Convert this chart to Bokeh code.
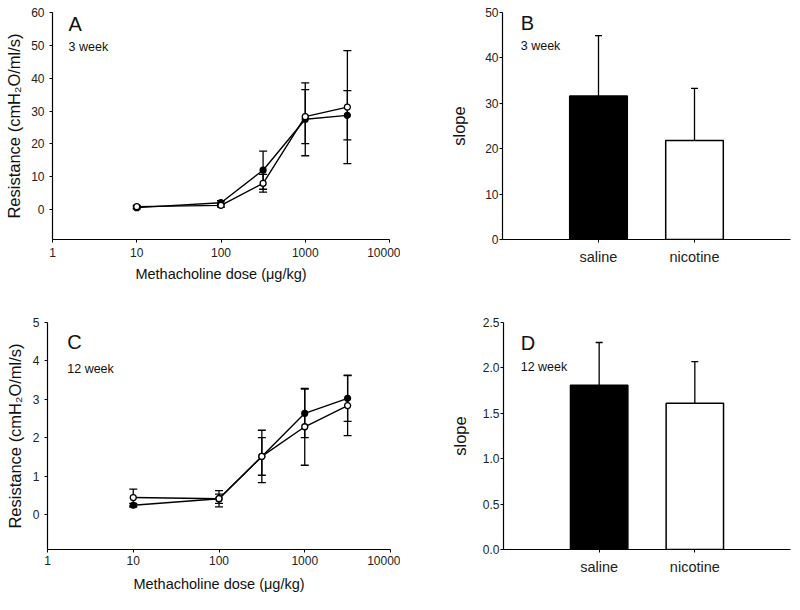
from bokeh.plotting import figure
from bokeh.layouts import column, row
from bokeh.models import Range1d, FixedTicker, Whisker, TeeHead, ColumnDataSource, Label
from bokeh.embed import file_html
from bokeh.resources import INLINE

FONT = "Liberation Sans"

# ---- data ----
doses = [10, 100, 316, 1000, 3162]
dose_tick_values = [1, 10, 100, 1000, 10000]
dose_tick_labels = ["1", "10", "100", "1000", "10000"]

a_saline = [0.6, 2.1, 12.0, 27.5, 28.7]
a_saline_err = [0.4, 0.6, 5.8, 11.1, 7.5]
a_nicotine = [0.9, 1.3, 8.0, 28.3, 31.2]
a_nicotine_err = [0.4, 0.5, 2.7, 8.2, 17.2]

c_saline = [0.25, 0.42, 1.52, 2.64, 3.03]
c_saline_err = [0.05, 0.12, 0.68, 0.63, 0.60]
c_nicotine = [0.45, 0.42, 1.52, 2.29, 2.84]
c_nicotine_err = [0.22, 0.21, 0.49, 1.00, 0.78]

groups = ["saline", "nicotine"]
b_slope = [31.6, 21.8]
b_slope_err = [13.3, 11.5]
d_slope = [1.81, 1.61]
d_slope_err = [0.47, 0.46]

a_yticks = [0, 10, 20, 30, 40, 50, 60]
c_yticks = [0, 1, 2, 3, 4, 5]
b_yticks = [0, 10, 20, 30, 40, 50]
d_yticks = [0.0, 0.5, 1.0, 1.5, 2.0, 2.5]
d_ylabels = ["0.0", "0.5", "1.0", "1.5", "2.0", "2.5"]

YLAB = "Resistance (cmH\u2082O/ml/s)"
XLAB = "Methacholine dose (\u03bcg/kg)"


def style(p):
    p.grid.visible = False
    p.outline_line_color = None
    p.background_fill_color = "white"
    p.border_fill_color = "white"
    for ax in p.axis:
        ax.axis_line_color = "black"
        ax.axis_line_width = 1.2
        ax.major_tick_line_color = "black"
        ax.major_tick_out = 3
        ax.major_tick_in = 0
        ax.minor_tick_line_color = None
        ax.major_label_text_font = FONT
        ax.major_label_text_font_size = "12px"
        ax.major_label_text_color = "#222222"
        ax.axis_label_text_font = FONT
        ax.axis_label_text_font_style = "normal"
        ax.axis_label_text_color = "#111111"


def dose_panel(width, height, borders, ymin, ymax, yticks, sal, sal_err, nic, nic_err,
               letter, week, lx, ly_letter, ly_week, xstand, xlstand, ylstand):
    p = figure(width=width, height=height, x_axis_type="log",
               x_range=Range1d(1, 10000), y_range=Range1d(ymin, ymax),
               output_backend="svg", toolbar_location=None,
               min_border_left=borders[0], min_border_right=borders[1],
               min_border_top=borders[2], min_border_bottom=borders[3])
    style(p)
    p.xaxis.ticker = FixedTicker(ticks=dose_tick_values)
    p.xaxis.major_label_overrides = {v: s for v, s in zip(dose_tick_values, dose_tick_labels)}
    p.yaxis.ticker = FixedTicker(ticks=yticks)
    p.xaxis.axis_label = XLAB
    p.yaxis.axis_label = YLAB
    p.xaxis.axis_label_text_font_size = "14.5px"
    p.yaxis.axis_label_text_font_size = "16.5px"
    p.xaxis.major_label_standoff = xstand
    p.yaxis.major_label_standoff = 5
    p.xaxis.axis_label_standoff = xlstand
    p.yaxis.axis_label_standoff = ylstand

    for vals, errs in ((sal, sal_err), (nic, nic_err)):
        src = ColumnDataSource(dict(x=doses,
                                    lo=[v - e for v, e in zip(vals, errs)],
                                    hi=[v + e for v, e in zip(vals, errs)]))
        w = Whisker(base="x", lower="lo", upper="hi", source=src, dimension="height",
                    line_color="black", line_width=1.3,
                    upper_head=TeeHead(size=8, line_color="black", line_width=1.3),
                    lower_head=TeeHead(size=8, line_color="black", line_width=1.3))
        p.add_layout(w)
    p.line(doses, sal, line_color="black", line_width=1.4)
    p.line(doses, nic, line_color="black", line_width=1.4)
    p.scatter(doses, sal, marker="circle", size=6, fill_color="black", line_color="black", line_width=1.2)
    p.scatter(doses, nic, marker="circle", size=6, fill_color="white", line_color="black", line_width=1.3)

    p.add_layout(Label(x=lx, y=ly_letter, text=letter, text_font=FONT, text_font_size="20px",
                       text_baseline="top", text_align="left", text_color="#111111"))
    p.add_layout(Label(x=lx, y=ly_week, text=week, text_font=FONT, text_font_size="12.5px",
                       text_baseline="top", text_align="left", text_color="#111111"))
    return p


def slope_panel(width, height, borders, ymax, yticks, vals, errs, letter, week,
                lx, ly_letter, ly_week, ylstand, ylabels=None):
    p = figure(width=width, height=height, x_range=Range1d(0, 3), y_range=Range1d(0, ymax),
               output_backend="svg", toolbar_location=None,
               min_border_left=borders[0], min_border_right=borders[1],
               min_border_top=borders[2], min_border_bottom=borders[3])
    style(p)
    xs = [i + 1 for i in range(len(groups))]
    p.xaxis.ticker = FixedTicker(ticks=xs)
    p.xaxis.major_label_overrides = {x: g for x, g in zip(xs, groups)}
    p.xaxis.major_label_text_font_size = "14.5px"
    p.xaxis.major_label_standoff = 6
    p.yaxis.ticker = FixedTicker(ticks=yticks)
    if ylabels:
        p.yaxis.major_label_overrides = {v: s for v, s in zip(yticks, ylabels)}
    p.yaxis.axis_label = "slope"
    p.yaxis.axis_label_text_font_size = "16.5px"
    p.yaxis.major_label_standoff = 1
    p.yaxis.axis_label_standoff = ylstand

    src = ColumnDataSource(dict(x=xs, base=vals, hi=[v + e for v, e in zip(vals, errs)]))
    p.add_layout(Whisker(base="x", lower="base", upper="hi", source=src, dimension="height",
                         line_color="black", line_width=1.3,
                         upper_head=TeeHead(size=7, line_color="black", line_width=1.3),
                         lower_head=None, level="underlay"))
    p.vbar(x=xs, top=vals, width=0.6, bottom=0,
           fill_color=["black", "white"], line_color="black", line_width=1.5)

    p.add_layout(Label(x=lx, y=ly_letter, text=letter, text_font=FONT, text_font_size="20px",
                       text_baseline="top", text_align="left", text_color="#111111"))
    p.add_layout(Label(x=lx, y=ly_week, text=week, text_font=FONT, text_font_size="12.5px",
                       text_baseline="top", text_align="left", text_color="#111111"))
    return p


pA = dose_panel(400, 300, (52, 11, 10, 61), -9.1, 60, a_yticks,
                a_saline, a_saline_err, a_nicotine, a_nicotine_err,
                "A", "3 week", 1.55, 60.0, 51.5, 5, 6, 5)
pB = slope_panel(400, 300, (102, 10, 12, 61), 50, b_yticks, b_slope, b_slope_err,
                 "B", "3 week", 0.19, 50.1, 44.2, 14)
pC = dose_panel(400, 310, (47, 10, 21, 60), -0.9, 5, c_yticks,
                c_saline, c_saline_err, c_nicotine, c_nicotine_err,
                "C", "12 week", 1.70, 4.78, 3.98, 3, 8, 6)
pD = slope_panel(400, 310, (103, 10, 22, 61), 2.5, d_yticks, d_slope, d_slope_err,
                 "D", "12 week", 0.18, 2.39, 2.09, 11, ylabels=d_ylabels)

layout = column(row(pA, pB, spacing=0), row(pC, pD, spacing=0), spacing=0)
open("out.html", "w").write(file_html(layout, INLINE))
